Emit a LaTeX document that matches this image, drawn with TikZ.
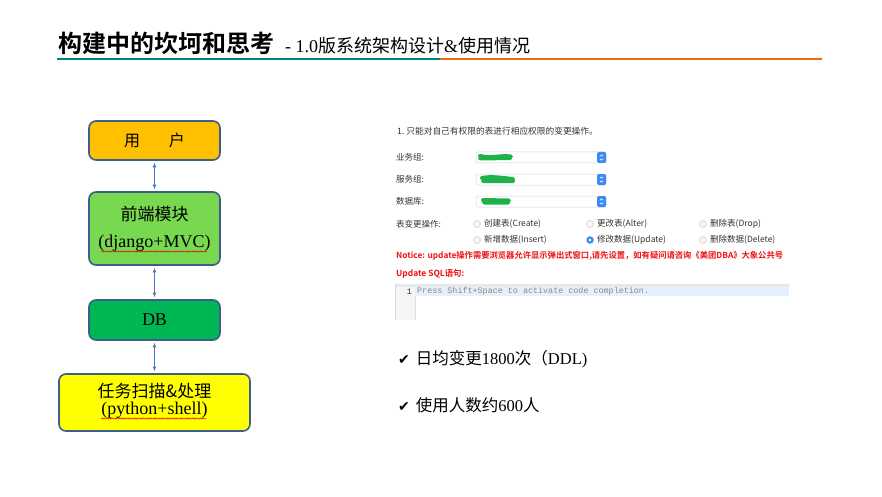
\documentclass[tikz,border=0pt]{standalone}
\usepackage{fontspec}
\setmainfont{Liberation Serif}
\newfontfamily\cjk[BoldFont={Noto Sans CJK SC Bold}]{Noto Sans CJK SC}
\newfontfamily\symfont{DejaVu Sans}
\newfontfamily\codefont{Liberation Mono}
\usetikzlibrary{arrows.meta,decorations.pathmorphing}
\definecolor{tealline}{HTML}{00847F}
\definecolor{orangeline}{HTML}{EE6A12}
\definecolor{boxborder}{HTML}{3A5F8F}
\definecolor{userfill}{HTML}{FFC000}
\definecolor{frontfill}{HTML}{78D850}
\definecolor{dbfill}{HTML}{00B853}
\definecolor{taskfill}{HTML}{FFFF00}
\definecolor{arrowblue}{HTML}{4A7CC4}
\definecolor{ssgray}{HTML}{333333}
\definecolor{ssred}{HTML}{F01010}
\definecolor{btnblue}{HTML}{3D8BF0}
\definecolor{scribble}{HTML}{1DB34A}
\definecolor{codegray}{HTML}{8A8A8A}
\definecolor{hlblue}{HTML}{E4F0FC}
\tikzset{
  flowbox/.style={draw=boxborder, line width=1.6pt, rounded corners=7pt, minimum width=131pt, align=center, inner sep=0pt},
  linkarrow/.style={arrowblue, line width=0.8pt, {Latex[length=4.5pt,width=4pt]}-{Latex[length=4.5pt,width=4pt]}, shorten >=2pt, shorten <=2pt},
  sstext/.style={anchor=west, inner sep=0pt, text=ssgray, font=\cjk\fontsize{8.5}{8.5}\selectfont},
  dropbox/.style={draw=gray!35, fill=white, rounded corners=2pt, line width=0.5pt, minimum width=130pt, minimum height=11pt, inner sep=0pt},
  btn/.style={fill=btnblue, rounded corners=1.5pt, minimum width=9pt, minimum height=11pt, inner sep=0pt},
  radio/.style={circle, draw=gray!45, fill=gray!6, line width=0.5pt, minimum size=7pt, inner sep=0pt},
  radiosel/.style={circle, fill=btnblue, minimum size=7.5pt, inner sep=0pt},
  scrib/.style={scribble, line width=4pt, line cap=round, line join=round},
  wavy/.style={red!85!black, line width=0.5pt, decorate, decoration={snake, amplitude=0.6pt, segment length=2.6pt}},
  checktext/.style={anchor=west, inner sep=0pt, font=\fontsize{16.5}{16.5}\selectfont}
}
\begin{document}
\begin{tikzpicture}[x=1pt,y=-1pt]
\useasboundingbox (0,0) rectangle (882,497);
\fill[white] (0,0) rectangle (882,497);
% title
\node[anchor=base west, inner sep=0pt] (title) at (58,53) {\cjk\bfseries\fontsize{24}{24}\selectfont 构建中的坎坷和思考};
\node[anchor=base west, inner sep=0pt] (subtitle) at (285,53) {\fontsize{18}{18}\selectfont - 1.0{\cjk 版系统架构设计}\&{\cjk 使用情况}};
\coordinate (lineA) at (57,59);
\coordinate (lineB) at (440,59);
\coordinate (lineC) at (822,59);
\draw[tealline, line width=2pt] (lineA) -- (lineB);
\draw[orangeline, line width=2pt] (lineB) -- (lineC);
% flow boxes
\node[flowbox, fill=userfill, minimum height=39pt] (user) at (154.5,140.5) {\cjk\fontsize{16}{16}\selectfont 用\hspace{29pt}户};
\node[flowbox, fill=frontfill, minimum height=73pt] (front) at (154.5,228.5) {};
\node[inner sep=0pt] (frontA) at (154.5,214) {\cjk\fontsize{17}{17}\selectfont 前端模块};
\node[inner sep=0pt] (frontB) at (154.5,243) {\fontsize{18}{18}\selectfont (django+MVC)};
\node[flowbox, fill=dbfill, minimum height=40pt, font=\fontsize{18}{18}\selectfont] (db) at (154.5,320) {DB};
\node[flowbox, fill=taskfill, minimum width=191pt, minimum height=57pt] (task) at (154.5,402.5) {};
\node[inner sep=0pt] (taskA) at (154.5,391) {\cjk\fontsize{17}{17}\selectfont 任务扫描\&处理};
\node[inner sep=0pt] (taskB) at (154.5,410.5) {\fontsize{18}{18}\selectfont (python+shell)};
\coordinate (w1a) at (101,251.5); \coordinate (w1b) at (207,251.5);
\coordinate (w2a) at (101,418.5); \coordinate (w2b) at (206,418.5);
\draw[wavy] (w1a) -- (w1b);
\draw[wavy] (w2a) -- (w2b);
\draw[linkarrow] (user) -- (front);
\draw[linkarrow] (front) -- (db);
\draw[linkarrow] (db) -- (task);
% screenshot
\node[sstext, font=\cjk\fontsize{8.7}{8.7}\selectfont] (ss1) at (397,131) {1.\ 只能对自己有权限的表进行相应权限的变更操作。};
\node[sstext] (lb1) at (396,157.5) {业务组:};
\node[sstext] (lb2) at (396,179.5) {服务组:};
\node[sstext] (lb3) at (396,201.5) {数据库:};
\foreach \yy/\nm in {157.5/d1,179.5/d2,201.5/d3}{
  \node[dropbox] (\nm) at (541,\yy) {};
  \node[btn, anchor=east] (\nm b) at (\nm.east) {};
  \draw[white, line width=0.6pt] ([xshift=-1.6pt,yshift=-1.2pt]\nm b.center) -- ([yshift=-2.6pt]\nm b.center) -- ([xshift=1.6pt,yshift=-1.2pt]\nm b.center);
  \draw[white, line width=0.6pt] ([xshift=-1.6pt,yshift=1.2pt]\nm b.center) -- ([yshift=2.6pt]\nm b.center) -- ([xshift=1.6pt,yshift=1.2pt]\nm b.center);
}
\draw[scrib] (480,156) .. controls (490,159) and (500,155) .. (511,156.5) -- (480,158.5) -- (510,158);
\draw[scrib] (482,178) .. controls (492,176) and (502,178) .. (513,179) -- (483,181) -- (513,181);
\draw[scrib] (483,200) -- (509,200.5) -- (484,202.5) -- (508,202.5);
\node[sstext] (lb4) at (396,224) {表变更操作:};
\node[radio] (r1) at (477,224) {};
\node[sstext] (t1) at (484,224) {创建表(Create)};
\node[radio] (r2) at (590,224) {};
\node[sstext] (t2) at (597,224) {更改表(Alter)};
\node[radio] (r3) at (703,224) {};
\node[sstext] (t3) at (710,224) {删除表(Drop)};
\node[radio] (r4) at (477,240) {};
\node[sstext] (t4) at (484,240) {新增数据(Insert)};
\node[radiosel] (r5) at (590,240) {};
\node[circle, fill=white, minimum size=2.6pt, inner sep=0pt] (r5dot) at (r5.center) {};
\node[sstext] (t5) at (597,240) {修改数据(Update)};
\node[radio] (r6) at (703,240) {};
\node[sstext] (t6) at (710,240) {删除数据(Delete)};
\node[sstext, text=ssred, font=\cjk\bfseries\fontsize{8.3}{8.3}\selectfont] (notice) at (396,256) {Notice: update操作需要浏览器允许显示弹出式窗口,请先设置，如有疑问请咨询《美团DBA》大象公共号};
\node[sstext, text=ssred, font=\cjk\bfseries\fontsize{8.4}{8.4}\selectfont] (sqllabel) at (396,274) {Update SQL语句:};
% editor
\fill[gray!18] (395,283.5) rectangle (790,287);
\fill[gray!8] (395,287) rectangle (415,320);
\draw[gray!30, line width=0.4pt] (395,283.5) -- (395,320);
\draw[gray!25, line width=0.4pt] (415,287) -- (415,320);
\fill[hlblue] (415,287) rectangle (789,296);
\node[anchor=east, inner sep=0pt, text=ssgray, font=\codefont\fontsize{8.4}{8.4}\selectfont] (ln1) at (412,291.5) {1};
\node[anchor=west, inner sep=0pt, text=codegray, font=\codefont\fontsize{8.4}{8.4}\selectfont] (code) at (417,291.5) {Press Shift+Space to activate code completion.};
% bullets
\node[checktext] (c1) at (398,359) {{\symfont\fontsize{14}{14}\selectfont ✔}\hspace{6pt}{\cjk 日均变更}1800{\cjk 次（}DDL)};
\node[checktext] (c2) at (398,405) {{\symfont\fontsize{14}{14}\selectfont ✔}\hspace{6pt}{\cjk 使用人数约}600{\cjk 人}};
\end{tikzpicture}
\end{document}
